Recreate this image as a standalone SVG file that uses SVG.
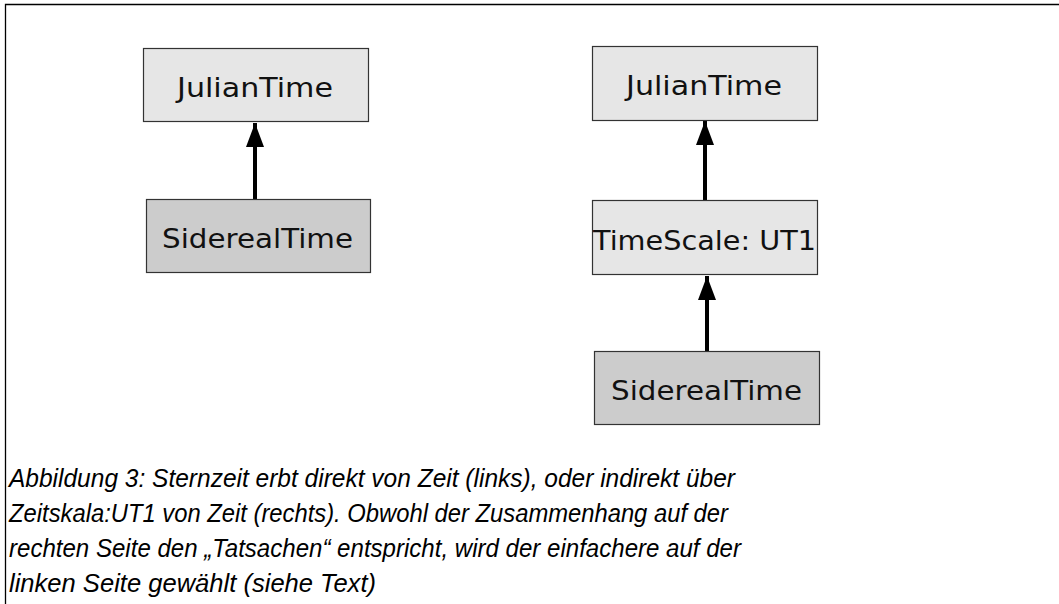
<svg xmlns="http://www.w3.org/2000/svg" width="1059" height="604" viewBox="0 0 1059 604">
<style>
.box{stroke:#333;stroke-width:1.2}
.light{fill:#e6e6e6}
.dark{fill:#cccccc}
.lbl{font-family:"DejaVu Sans","Liberation Sans",sans-serif;font-size:26px;fill:#111}
.cap{font-family:"Liberation Sans",Arial,sans-serif;font-style:italic;font-size:26.5px;fill:#000}
.edge{stroke:#000;stroke-width:4;fill:none}
</style>
<defs>
<marker id="ah" viewBox="0 0 24 18" refX="24" refY="9" markerUnits="userSpaceOnUse" markerWidth="24" markerHeight="18" orient="auto">
<path d="M0,0 L24,9 L0,18 Z" fill="#000"/>
</marker>
</defs>
<rect x="0" y="0" width="1059" height="604" fill="#fff"/>
<path d="M5.5,604 V4.5 H1059" fill="none" stroke="#000" stroke-width="1.3"/>
<g id="connectors">
<line class="edge" x1="255" y1="199" x2="255" y2="123" marker-end="url(#ah)"/>
<line class="edge" x1="705" y1="200" x2="705" y2="121" marker-end="url(#ah)"/>
<line class="edge" x1="707" y1="351" x2="707" y2="276" marker-end="url(#ah)"/>
</g>
<g id="left-julian">
<rect class="box light" x="143.5" y="48.5" width="225" height="73"/>
<text class="lbl" x="177" y="97" textLength="156" lengthAdjust="spacingAndGlyphs">JulianTime</text>
</g>
<g id="left-sidereal">
<rect class="box dark" x="146.5" y="199.5" width="224" height="73"/>
<text class="lbl" x="162" y="248" textLength="191" lengthAdjust="spacingAndGlyphs">SiderealTime</text>
</g>
<g id="right-julian">
<rect class="box light" x="592.5" y="46.5" width="225" height="74"/>
<text class="lbl" x="626" y="95" textLength="156" lengthAdjust="spacingAndGlyphs">JulianTime</text>
</g>
<g id="right-timescale">
<rect class="box light" x="592.5" y="200.5" width="225" height="74"/>
<text class="lbl" x="593" y="250" textLength="223" lengthAdjust="spacingAndGlyphs">TimeScale: UT1</text>
</g>
<g id="right-sidereal">
<rect class="box dark" x="594.5" y="351.5" width="225" height="73"/>
<text class="lbl" x="611" y="400" textLength="191" lengthAdjust="spacingAndGlyphs">SiderealTime</text>
</g>
<g id="caption">
<text class="cap" x="9" y="487" textLength="726" lengthAdjust="spacingAndGlyphs">Abbildung 3: Sternzeit erbt direkt von Zeit (links), oder indirekt über</text>
<text class="cap" x="9" y="522" textLength="719" lengthAdjust="spacingAndGlyphs">Zeitskala:UT1 von Zeit (rechts). Obwohl der Zusammenhang auf der</text>
<text class="cap" x="9" y="557" textLength="732" lengthAdjust="spacingAndGlyphs">rechten Seite den „Tatsachen“ entspricht, wird der einfachere auf der</text>
<text class="cap" x="9" y="592" textLength="367" lengthAdjust="spacingAndGlyphs">linken Seite gewählt (siehe Text)</text>
</g>
</svg>
